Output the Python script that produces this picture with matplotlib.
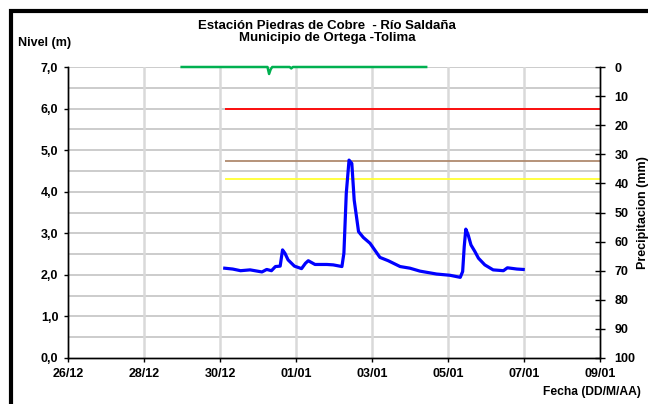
import matplotlib
matplotlib.use("Agg")
import matplotlib.pyplot as plt
import matplotlib.dates as mdates
import pandas as pd
from matplotlib.lines import Line2D

plt.rcParams['font.family'] = ['Liberation Sans', 'DejaVu Sans']
plt.rcParams['font.weight'] = 'bold'

# ---------------- data ----------------
level_times = [
    "2011-12-30 03:00", "2011-12-30 08:00", "2011-12-30 13:00", "2011-12-30 19:00",
    "2011-12-31 02:30", "2011-12-31 05:30", "2011-12-31 08:30", "2011-12-31 11:00",
    "2011-12-31 14:00", "2011-12-31 15:30", "2011-12-31 17:00", "2011-12-31 19:00",
    "2011-12-31 23:00", "2012-01-01 03:30", "2012-01-01 06:00", "2012-01-01 07:45",
    "2012-01-01 12:00", "2012-01-01 19:30", "2012-01-01 23:30", "2012-01-02 05:00",
    "2012-01-02 06:15", "2012-01-02 07:45", "2012-01-02 09:30", "2012-01-02 11:15",
    "2012-01-02 12:45", "2012-01-02 15:30", "2012-01-02 18:30", "2012-01-02 22:45",
    "2012-01-03 05:00", "2012-01-03 10:15", "2012-01-03 17:45", "2012-01-04 00:00",
    "2012-01-04 06:15", "2012-01-04 16:45", "2012-01-05 01:15", "2012-01-05 07:45",
    "2012-01-05 09:15", "2012-01-05 10:15", "2012-01-05 11:15", "2012-01-05 12:45",
    "2012-01-05 14:30", "2012-01-05 17:00", "2012-01-05 19:15", "2012-01-05 23:15",
    "2012-01-06 04:30", "2012-01-06 11:00", "2012-01-06 13:30", "2012-01-06 19:30",
    "2012-01-06 23:30",
]
level_values = [
    2.16, 2.14, 2.10, 2.12,
    2.07, 2.13, 2.10, 2.20,
    2.21, 2.60, 2.52, 2.36,
    2.21, 2.15, 2.28, 2.34,
    2.25, 2.25, 2.24, 2.20,
    2.52, 3.96, 4.76, 4.68,
    3.80, 3.04, 2.90, 2.76,
    2.42, 2.34, 2.20, 2.16,
    2.09, 2.02, 1.99, 1.94,
    2.08, 2.68, 3.10, 2.96,
    2.72, 2.56, 2.40, 2.24,
    2.12, 2.10, 2.17, 2.14,
    2.13,
]

precip_times = [
    "2011-12-28 23:00", "2011-12-31 06:00", "2011-12-31 07:00", "2011-12-31 08:00",
    "2011-12-31 09:00", "2011-12-31 20:00", "2011-12-31 21:00", "2011-12-31 22:00",
    "2012-01-04 11:00",
]
precip_values = [0, 0, 2.4, 0.8, 0, 0, 0.5, 0, 0]

threshold_start = "2011-12-30 03:00"
threshold_end = "2012-01-09 00:00"
threshold_values = [6.0, 4.74, 4.31]
threshold_colors = ["#FF0000", "#B08A6E", "#FFFF33"]

x_ticks = pd.date_range("2011-12-26", "2012-01-09", freq="2D")

title = "Estación Piedras de Cobre  - Río Saldaña\nMunicipio de Ortega -Tolima"

# ---------------- figure ----------------
W, H = 648, 404
fig = plt.figure(figsize=(W / 100, H / 100), dpi=100)

ax = fig.add_axes([68 / W, 1 - 358 / H, 532 / W, 291 / H])
ax2 = ax.twinx()

lt = pd.to_datetime(level_times)
pt = pd.to_datetime(precip_times)

# grid
for y in [i * 0.5 for i in range(1, 15)]:
    ax.axhline(y, color="#BEBEBE", lw=1.1, zorder=0)
for xt in x_ticks[1:-1]:
    ax.axvline(xt, color="#D9D9D9", lw=1.8, zorder=0)

# thresholds
for v, c in zip(threshold_values, threshold_colors):
    ax.plot(pd.to_datetime([threshold_start, threshold_end]), [v, v], color=c,
            lw=1.3, zorder=2, solid_capstyle="butt")

ax.plot(lt, level_values, color="#0000FF", lw=2.3, zorder=3)

ax2.plot(pt, precip_values, color="#00B050", lw=1.8, zorder=3, clip_on=False,
         solid_capstyle="butt")

ax.set_xlim(x_ticks[0], x_ticks[-1])
ax.set_ylim(0, 7)
ax2.set_ylim(100, 0)

ax.set_xticks(x_ticks)
ax.xaxis.set_major_formatter(mdates.DateFormatter("%d/%m"))
ax.set_yticks(range(0, 8))
ax.set_yticklabels([f"{v},0" for v in range(0, 8)])
ax2.set_yticks(range(0, 101, 10))

for a in (ax, ax2):
    a.spines["top"].set_visible(False)
    for s in ("left", "right", "bottom"):
        a.spines[s].set_color("black")
        a.spines[s].set_linewidth(1.0)

FS = 9
ax.tick_params(axis="y", direction="out", length=3, width=1, pad=4, labelsize=FS)
ax.tick_params(axis="x", direction="out", length=3, width=1, pad=4, labelsize=FS)
ax2.tick_params(axis="y", direction="inout", length=7, width=1, pad=7, labelsize=FS)
for lab in ax.get_xticklabels() + ax.get_yticklabels() + ax2.get_yticklabels():
    lab.set_fontweight("bold")

ax2.set_ylabel("Precipitacion (mm)", fontsize=FS, fontweight="bold", labelpad=1)

fig.text(327 / W, 1 - 32 / H, title, ha="center", va="center", fontsize=9.5,
         fontweight="bold", linespacing=1.0)
fig.text(18 / W, 1 - 43 / H, "Nivel (m)", ha="left", va="center", fontsize=FS,
         fontweight="bold")
fig.text(641 / W, 1 - 392 / H, "Fecha (DD/M/AA)", ha="right", va="center",
         fontsize=8.7, fontweight="bold")

# outer frame (clipped by figure edge)
fig.add_artist(Line2D([11 / W, 11 / W, 1.05], [-0.05, 1 - 11 / H, 1 - 11 / H],
                      transform=fig.transFigure, color="black", lw=3.0,
                      solid_joinstyle="miter"))

fig.savefig("out.png", dpi=100)
